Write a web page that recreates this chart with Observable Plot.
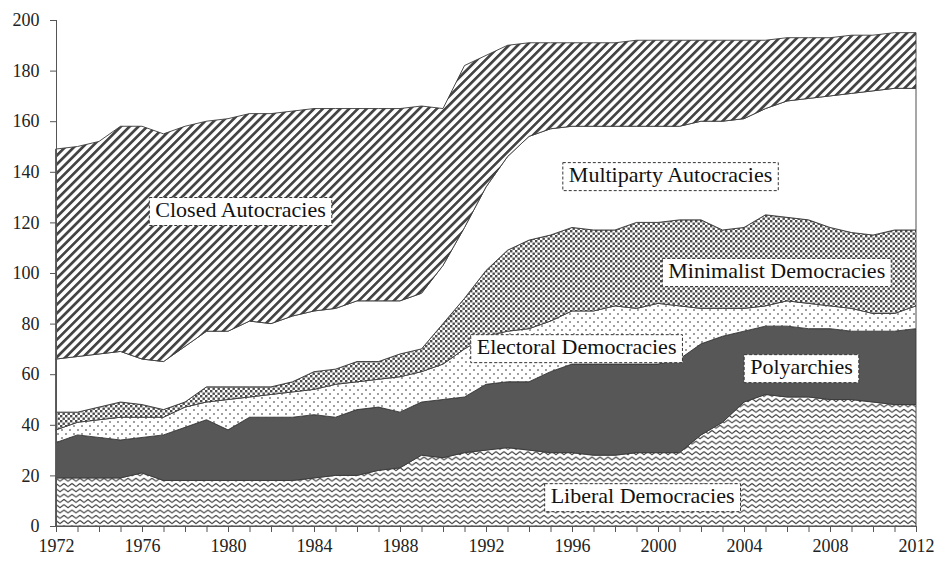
<!DOCTYPE html>
<html><head><meta charset="utf-8">
<script src="https://cdn.jsdelivr.net/npm/d3@7"></script>
<script src="https://cdn.jsdelivr.net/npm/@observablehq/plot@0.6"></script>
<style>
body{margin:0;background:#fff}
#chart svg{display:block}
#chart svg text{font-family:"Liberation Serif","DejaVu Serif","Noto Serif",Tinos,"Times New Roman",Times,serif !important;}
</style>
</head><body>
<svg width="0" height="0" style="position:absolute">
<defs>
  <pattern id="pWave" patternUnits="userSpaceOnUse" width="8" height="5.3">
    <rect width="8" height="5.3" fill="#fff"/>
    <path d="M0,1.2 L4,4.2 L8,1.2" fill="none" stroke="#444" stroke-width="1.1"/>
  </pattern>
  <pattern id="pSparse" patternUnits="userSpaceOnUse" width="8" height="8">
    <rect width="8" height="8" fill="#fff"/>
    <circle cx="2" cy="2" r="0.95" fill="#777"/>
    <circle cx="6" cy="6" r="0.95" fill="#777"/>
  </pattern>
  <pattern id="pDense" patternUnits="userSpaceOnUse" width="5" height="5">
    <rect width="5" height="5" fill="#fff"/>
    <rect x="0" y="0" width="2.4" height="2.4" fill="#4a4a4a"/>
    <rect x="2.5" y="2.5" width="2.4" height="2.4" fill="#4a4a4a"/>
  </pattern>
  <pattern id="pHatch" patternUnits="userSpaceOnUse" width="6.2" height="6.2" patternTransform="rotate(45)">
    <rect width="6.2" height="6.2" fill="#fff"/>
    <rect x="0" y="0" width="2.7" height="6.2" fill="#444"/>
  </pattern>
</defs>
</svg>
<div id="chart"></div>
<script>
const years = [1972,1973,1974,1975,1976,1977,1978,1979,1980,1981,1982,1983,1984,1985,1986,1987,1988,1989,1990,1991,1992,1993,1994,1995,1996,1997,1998,1999,2000,2001,2002,2003,2004,2005,2006,2007,2008,2009,2010,2011,2012];
const categories = ["Liberal Democracies","Polyarchies","Electoral Democracies","Minimalist Democracies","Multiparty Autocracies","Closed Autocracies"];
const liberal     = [19,19,19,19,21,18,18,18,18,18,18,18,19,20,20,22,23,28,27,29,30,31,30,29,29,28,28,29,29,29,36,41,49,52,51,51,50,50,49,48,48];
const polyarchies = [14,17,16,15,14,18,21,24,20,25,25,25,25,23,26,25,22,21,23,22,26,26,27,32,35,36,36,35,35,37,36,34,28,27,28,27,28,27,28,29,30];
const electoral   = [5,5,7,9,8,7,8,7,12,8,9,10,10,13,11,11,14,12,14,19,19,20,21,20,21,21,23,22,24,21,14,11,9,8,10,10,9,9,7,7,9];
const minimalist  = [7,4,5,6,5,3,2,6,5,4,3,4,7,6,8,7,9,9,16,20,26,32,35,34,33,32,30,34,32,34,35,31,32,36,33,33,31,30,31,33,30];
const multiparty  = [21,22,21,20,18,19,22,22,22,26,25,26,24,24,24,24,21,22,23,28,33,37,41,42,40,41,41,38,38,37,39,43,43,42,46,48,52,55,57,56,56];
const closed      = [83,83,84,89,92,90,87,83,84,82,83,81,80,79,76,76,76,74,62,64,52,44,37,34,33,33,33,34,34,34,32,32,31,27,25,24,23,23,22,22,22];
const series = [liberal, polyarchies, electoral, minimalist, multiparty, closed];
const fills = ["url(#pWave)","#575757","url(#pSparse)","url(#pDense)","#ffffff","url(#pHatch)"];
const yTicks = [0,20,40,60,80,100,120,140,160,180,200];
const xTickLabels = [1972,1976,1980,1984,1988,1992,1996,2000,2004,2008,2012];
const labelNames = ["Closed Autocracies","Multiparty Autocracies","Minimalist Democracies","Electoral Democracies","Polyarchies","Liberal Democracies"];
const labelX = [1980.56,2000.56,2005.5,1996.19,2006.65,1999.26];
const labelY = [125.3,139.1,101.2,71.1,63.2,12.2];

const serif = "'Liberation Serif', 'DejaVu Serif', serif";
const rows = years.flatMap((yr, i) => categories.map((c, j) => ({year: yr, cat: c, value: series[j][i]})));

const chart = Plot.plot({
  width: 935, height: 561,
  marginLeft: 56, marginRight: 19, marginTop: 20, marginBottom: 35,
  x: {domain: [1972, 2012]},
  y: {domain: [0, 200]},
  color: {type: "ordinal", domain: categories, range: fills},
  style: {fontFamily: serif, fontSize: "18px", background: "white", color: "#222"},
  marks: [
    Plot.areaY(rows, {x: "year", y: "value", z: "cat", fill: "cat", order: categories, stroke: "#3a3a3a", strokeWidth: 0.9}),
    Plot.ruleX([1972], {stroke: "#555"}),
    Plot.ruleY([0], {stroke: "#555"}),
    Plot.axisY({ticks: yTicks, tickSize: 6, tickPadding: 11, label: null, stroke: "#555", fontFamily: serif, fontSize: 18}),
    Plot.axisX({ticks: years, tickSize: 6, tickFormat: () => "", label: null, stroke: "#555"}),
    Plot.axisX({ticks: xTickLabels, tickSize: 6, tickPadding: 7, tickFormat: "d", label: null, stroke: "#555", fontFamily: serif, fontSize: 18}),
    Plot.text(labelNames, {x: (d, i) => labelX[i], y: (d, i) => labelY[i], text: d => d, fontSize: 22, fontFamily: serif, fill: "#111"})
  ]
});
document.getElementById("chart").append(chart);
chart.querySelectorAll('g[aria-label="text"] text').forEach(t => {
  const b = t.getBBox();
  const r = document.createElementNS("http://www.w3.org/2000/svg", "rect");
  r.setAttribute("x", b.x - 6);
  r.setAttribute("y", b.y + 1);
  r.setAttribute("width", b.width + 12);
  r.setAttribute("height", b.height + 3);
  r.setAttribute("fill", "#fff");
  r.setAttribute("stroke", "#333");
  r.setAttribute("stroke-width", "1");
  r.setAttribute("stroke-dasharray", "3,2");
  const tr = t.getAttribute("transform");
  if (tr) r.setAttribute("transform", tr);
  t.parentNode.insertBefore(r, t);
});
</script>
</body></html>
